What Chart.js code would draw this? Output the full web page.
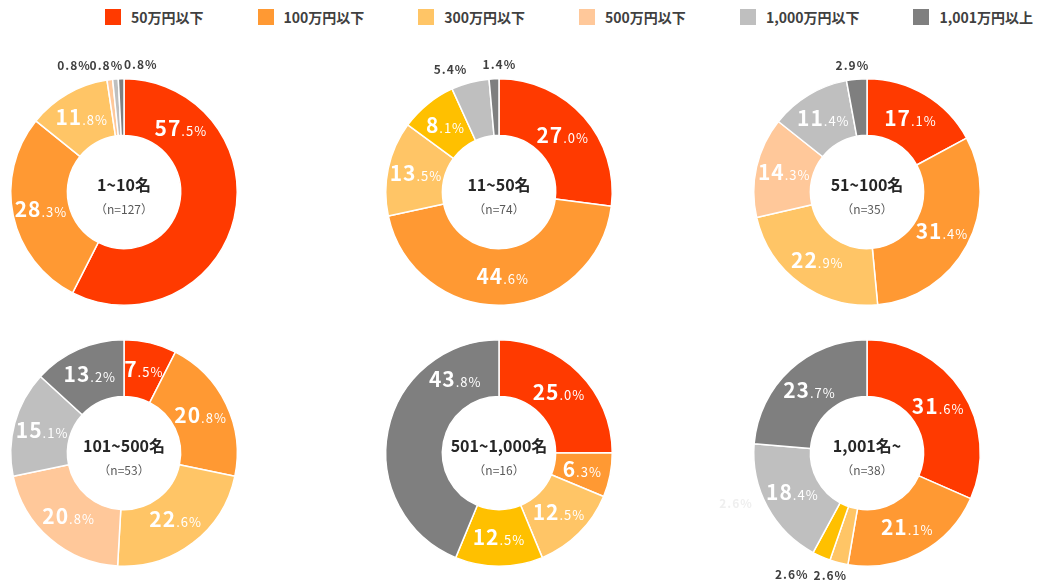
<!DOCTYPE html>
<html lang="ja">
<head>
<meta charset="utf-8">
<title>従業員規模別</title>
<script src="https://cdn.jsdelivr.net/npm/chart.js@4"></script>
<style>
  html, body { margin: 0; padding: 0; background: #fff; }
  body { width: 1038px; height: 585px; position: relative; overflow: hidden; font-family: "Noto Sans CJK JP", "Noto Sans", sans-serif; }
  #legend { position: absolute; left: 105px; top: 8px; display: flex; white-space: nowrap; }
  .item { display: flex; align-items: center; flex: none; margin-right: 54px; font-size: 14px; font-weight: bold; color: #404040; height: 17px; }
  .box { width: 16px; height: 16px; margin-right: 10px; flex: none; }
  canvas { position: absolute; }
</style>
</head>
<body>
<div id="legend"></div>

<script>
'use strict';

// legend categories (annual amount bands)
var categories = ['50万円以下', '100万円以下', '300万円以下', '500万円以下', '1,000万円以下', '1,001万円以上'];

// company size groups and sample sizes
var groups = ['1~10名', '11~50名', '51~100名', '101~500名', '501~1,000名', '1,001名~'];
var sampleSizes = [127, 74, 35, 53, 16, 38];

// share (%) per group, in category order
var share1to10 = [57.5, 28.3, 11.8, 0.8, 0.8, 0.8];
var share11to50 = [27.0, 44.6, 13.5, 8.1, 5.4, 1.4];
var share51to100 = [17.1, 31.4, 22.9, 14.3, 11.4, 2.9];
var share101to500 = [7.5, 20.8, 22.6, 20.8, 15.1, 13.2];
var share501to1000 = [25.0, 6.3, 12.5, 12.5, 0, 43.8];
var share1001plus = [31.6, 21.1, 2.6, 2.6, 18.4, 23.7];

var shares = [share1to10, share11to50, share51to100, share101to500, share501to1000, share1001plus];

var RED = '#ff3a00', ORANGE = '#ff9933', AMBER = '#ffc566', PEACH = '#ffc89a', LGRAY = '#bfbfbf', DGRAY = '#7f7f7f', GOLD = '#ffc000';
var legendColors = [RED, ORANGE, AMBER, PEACH, LGRAY, DGRAY];
// some charts in the original use a deeper gold for the 500万 band
var sliceColors = [
  legendColors,
  [RED, ORANGE, AMBER, GOLD, LGRAY, DGRAY],
  legendColors,
  legendColors,
  [RED, ORANGE, AMBER, GOLD, LGRAY, DGRAY],
  [RED, ORANGE, AMBER, GOLD, LGRAY, DGRAY]
];

// chart centres on the page
var centres = [[124, 192], [499, 192], [867, 192], [124, 453], [499, 453], [867, 453]];

// labels that were dragged away from the slice middle (degrees from 12 o'clock)
var insideAngle = [{ 0: 42 }, {}, {}, {}, { 5: 329 }, {}];
// nudges for the small outside labels
var outsideShift = [
  { 3: [-34, 0], 4: [-8, 0], 5: [20, 0] },
  { 4: [-16, 0], 5: [6, 0] },
  { 5: [-3, 0] },
  {},
  {},
  { 2: [-5, -1], 3: [-24, 5] }
];
// leftover faint label in the last chart
var ghostLabels = [[], [], [], [], [], [{ text: '2.6%', dx: -131, dy: 50 }]];

// legend
var legendEl = document.getElementById('legend');
categories.forEach(function (c, i) {
  var item = document.createElement('div');
  item.className = 'item';
  item.innerHTML = '<span class="box" style="background:' + legendColors[i] + '"></span><span>' + c + '</span>';
  legendEl.appendChild(item);
});

var FONT = '"Noto Sans CJK JP", "Noto Sans", sans-serif';

var sliceLabels = {
  id: 'sliceLabels',
  afterDatasetsDraw: function (chart) {
    var o = chart.options.plugins.sliceLabels;
    var ctx = chart.ctx;
    var values = chart.data.datasets[0].data;
    var meta = chart.getDatasetMeta(0);
    ctx.save();
    meta.data.forEach(function (arc, i) {
      var v = values[i];
      if (!v) return;
      var p = arc.getProps(['x', 'y', 'startAngle', 'endAngle', 'innerRadius', 'outerRadius'], true);
      var mid = (p.startAngle + p.endAngle) / 2;
      var txt = v.toFixed(1);
      if (v > 6) {
        if (o.angles[i] !== undefined) mid = (o.angles[i] - 90) * Math.PI / 180;
        var r = (p.innerRadius + p.outerRadius) / 2;
        var x = p.x + r * Math.cos(mid);
        var y = p.y + r * Math.sin(mid);
        var dot = txt.indexOf('.');
        var big = txt.slice(0, dot);
        var small = txt.slice(dot) + '%';
        ctx.fillStyle = '#ffffff';
        ctx.textBaseline = 'alphabetic';
        ctx.textAlign = 'left';
        ctx.letterSpacing = '1px';
        ctx.font = 'bold 21px ' + FONT;
        var w1 = ctx.measureText(big).width;
        ctx.font = '13px ' + FONT;
        var w2 = ctx.measureText(small).width;
        var x0 = x - (w1 + w2) / 2;
        ctx.font = 'bold 21px ' + FONT;
        ctx.fillText(big, x0, y + 7);
        ctx.font = '13px ' + FONT;
        ctx.fillText(small, x0 + w1, y + 7);
      } else {
        var ro = p.outerRadius + 14;
        var s = o.shifts[i] || [0, 0];
        var ox = p.x + ro * Math.cos(mid) + s[0];
        var oy = p.y + ro * Math.sin(mid) + s[1];
        ctx.fillStyle = '#404040';
        ctx.font = 'bold 12px ' + FONT;
        ctx.letterSpacing = '1px';
        ctx.textAlign = 'center';
        ctx.textBaseline = 'middle';
        ctx.fillText(txt + '%', ox, oy);
      }
    });
    var c = meta.data[0];
    o.ghosts.forEach(function (g) {
      ctx.fillStyle = '#efefef';
      ctx.font = 'bold 12px ' + FONT;
      ctx.letterSpacing = '1px';
      ctx.textAlign = 'center';
      ctx.textBaseline = 'middle';
      ctx.fillText(g.text, c.x + g.dx, c.y + g.dy);
    });
    // centre text
    ctx.letterSpacing = '0px';
    ctx.textAlign = 'center';
    ctx.textBaseline = 'middle';
    ctx.fillStyle = '#262626';
    ctx.font = 'bold 16px ' + FONT;
    ctx.fillText(o.title, c.x, c.y - 7);
    ctx.fillStyle = '#595959';
    ctx.font = '12px ' + FONT;
    ctx.fillText('（n=' + o.n + '）', c.x, c.y + 17);
    ctx.restore();
  }
};

var CW = 320, CH = 290;

groups.forEach(function (g, k) {
  var cv = document.createElement('canvas');
  cv.width = CW;
  cv.height = CH;
  cv.style.left = (centres[k][0] - CW / 2) + 'px';
  cv.style.top = (centres[k][1] - CH / 2) + 'px';
  document.body.appendChild(cv);

  new Chart(cv.getContext('2d'), {
    type: 'doughnut',
    data: {
      labels: categories,
      datasets: [{
        data: shares[k],
        backgroundColor: sliceColors[k],
        borderColor: '#ffffff',
        borderWidth: 1.5
      }]
    },
    options: {
      responsive: false,
      animation: false,
      cutout: '50%',
      layout: { padding: { left: 46, right: 46, top: 31, bottom: 31 } },
      plugins: {
        legend: { display: false },
        tooltip: { enabled: false },
        sliceLabels: {
          title: g,
          n: sampleSizes[k],
          angles: insideAngle[k],
          shifts: outsideShift[k],
          ghosts: ghostLabels[k]
        }
      }
    },
    plugins: [sliceLabels]
  });
});
</script>
</body>
</html>
